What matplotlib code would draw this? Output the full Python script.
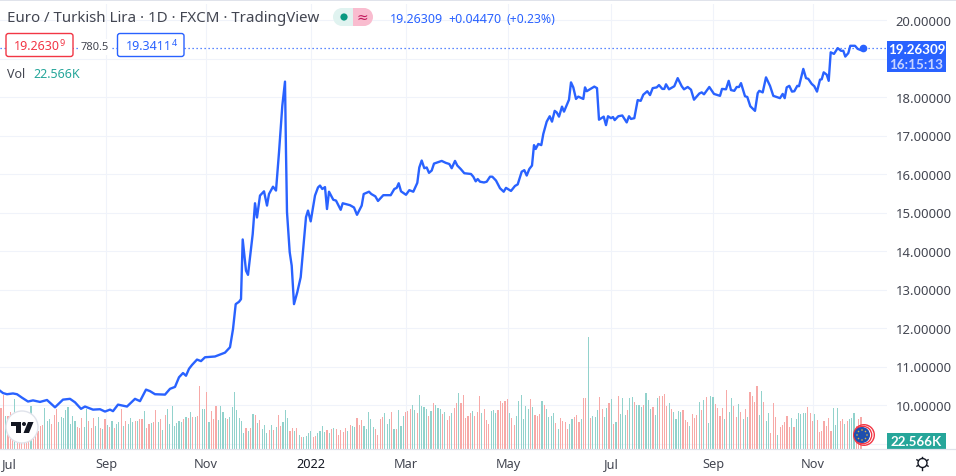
import matplotlib
matplotlib.use("Agg")
import matplotlib.pyplot as plt
from matplotlib.patches import Circle, FancyBboxPatch, Polygon, Rectangle

plt.rcParams["font.family"] = ["Noto Sans", "DejaVu Sans"]

# price line, time axis position and EUR/TRY close
line_t = [0, 3, 7, 13, 17, 22, 28, 33, 40, 47, 55, 63, 70, 75, 81, 85, 93, 100, 105, 110, 113, 118, 127, 135, 140, 146,
          150, 155, 165, 170, 175, 179, 183, 186, 189, 192, 197, 201, 205, 215, 225, 230, 233,
          235.7, 239, 241, 242.7, 246, 248, 252.7, 255, 257, 260, 264, 267, 269, 273, 276, 279, 282.3, 285, 286, 287,
          289.7, 291.7, 294, 297.3, 300.7, 306, 308, 310.7, 315, 318, 320, 322.3, 325, 327, 329, 333.3, 336, 340.7,
          342.7, 350, 354, 357, 361.7, 363.7, 369, 371.3, 375.3, 378, 383.3, 390.7, 394.3, 396.7, 398.7, 401,
          406, 409.3, 413.3, 417.3, 419.3, 421.7, 424.3, 426.7, 429, 431.7, 434, 441.7, 445.7, 449.3, 451.7, 455,
          457.3, 460.7, 464.3, 471, 473.3, 475.7, 477.7, 480, 484, 486.7, 490, 492.3, 496, 500, 503.7, 506, 511, 515,
          517.7, 521.7, 524.3, 526.7, 529.3, 532, 534, 535.7, 538.3, 541.3, 543.3, 546.7, 549.7, 552, 554.7, 556.7,
          559, 562, 564, 569, 571, 573.3, 576, 578.3, 583.3, 585, 586.7, 594.3, 597, 599, 603.7, 606, 608, 611, 613,
          614.7, 618.3, 622.3, 626.7, 629, 631, 634.3, 637.7, 640.7, 643.3, 647.3, 650, 652.7, 656.7, 659, 662.3,
          664.3, 666, 669, 674.3, 677.7, 681.7, 684, 687.7, 691, 694, 699.3, 701.7, 704, 709.3, 714, 720, 722, 726,
          728.7, 731, 734.3, 736.7, 739, 741, 745, 747.3, 750.3, 755, 757.7, 759.3, 762.7, 766, 770, 773.3, 780,
          782.7, 784.7, 786.7, 789.3, 792, 794.3, 797.3, 799, 803.3, 806, 808.3, 811.7, 814.3, 817, 820, 821.7, 823.7,
          826.7, 828.7, 830.7, 834, 837.7, 841, 843.3, 845.3, 848.3, 850.3, 855, 857.7, 860.7, 863]
price = [10.37, 10.31, 10.28, 10.30, 10.28, 10.19, 10.09, 10.12, 10.08, 10.13, 9.94, 10.14, 10.16, 10.07, 9.90, 9.96, 9.88, 9.89, 9.83, 9.88, 9.84, 10.01, 9.96, 10.16, 10.10, 10.40,
         10.36, 10.28, 10.27, 10.42, 10.47, 10.72, 10.83, 10.76, 10.94, 11.04, 11.18, 11.14, 11.24, 11.26, 11.36, 11.50, 11.97,
         12.62, 12.68, 12.75, 14.30, 13.49, 13.38, 14.44, 15.24, 14.87, 15.44, 15.55, 15.18, 15.48, 15.67, 15.57, 16.56, 17.77, 18.40, 16.57, 15.01,
         13.97, 13.62, 12.62, 12.93, 13.32, 14.88, 15.05, 14.77, 15.44, 15.65, 15.70, 15.61, 15.66, 15.09, 15.54, 15.33, 15.31, 15.07,
         15.24, 15.19, 15.13, 14.94, 15.18, 15.48, 15.54, 15.48, 15.42, 15.30, 15.45, 15.45, 15.61, 15.64, 15.76, 15.55,
         15.46, 15.58, 15.54, 15.77, 16.17, 16.35, 16.15, 16.17, 16.03, 16.09, 16.27, 16.34, 16.29, 16.26, 16.15, 16.34,
         16.22, 16.13, 16.02, 16.00, 15.93, 15.81, 15.87, 15.80, 15.78, 15.80, 15.93, 15.93, 15.83, 15.63, 15.54, 15.64, 15.56, 15.69,
         15.73, 16.06, 16.10, 15.96, 16.13, 16.22, 16.75, 16.65, 16.78, 16.75, 17.04, 17.36, 17.50, 17.36, 17.64, 17.60,
         17.49, 17.75, 17.62, 17.93, 18.38, 18.25, 17.95, 18.01, 17.95, 18.25, 18.15, 18.27, 18.23, 17.41, 17.49, 17.27, 17.50, 17.45, 17.48,
         17.40, 17.50, 17.52, 17.34, 17.50, 17.43, 17.45, 17.92, 17.90, 18.06, 18.15, 18.05, 18.23, 18.25, 18.31, 18.21,
         18.21, 18.33, 18.20, 18.28, 18.49, 18.28, 18.20, 18.26, 18.19, 17.93, 18.09, 18.12, 18.07, 18.26, 18.08, 18.03, 18.21, 18.20,
         18.42, 18.18, 18.16, 18.26, 18.26, 18.36, 18.02, 18.00, 17.76, 17.64, 18.10, 18.16, 18.12, 18.51, 18.29, 18.03, 17.97,
         18.08, 17.97, 18.25, 18.29, 18.14, 18.15, 18.29, 18.28, 18.73, 18.49, 18.47, 18.34, 18.28, 18.14, 18.45, 18.46, 18.64,
         18.58, 18.42, 19.16, 19.12, 19.27, 19.20, 19.20, 19.05, 19.14, 19.33, 19.33, 19.25, 19.22, 19.26]

# daily volume bars, relative height
vol = [123, 162, 100, 100, 110, 75, 150, 90, 75, 85,
       90, 90, 110, 130, 90, 55, 55, 70, 72, 122,
       85, 90, 75, 102, 120, 82, 96, 93, 118, 127,
       75, 100, 85, 65, 62, 93, 65, 120, 85, 62,
       93, 68, 96, 62, 60, 90, 72, 65, 85, 63,
       75, 82, 120, 70, 85, 75, 92, 82, 85, 85,
       90, 90, 114, 62, 75, 77, 80, 118, 80, 90,
       58, 103, 120, 75, 130, 68, 77, 85, 82, 90,
       95, 92, 112, 97, 95, 100, 190, 120, 120, 172,
       80, 113, 90, 130, 88, 128, 110, 92, 90, 97,
       125, 170, 117, 92, 85, 48, 62, 55, 62, 105,
       102, 78, 87, 60, 72, 48, 57, 72, 57, 65,
       102, 68, 80, 117, 92, 55, 62, 55, 62, 43,
       37, 37, 40, 48, 53, 35, 40, 48, 53, 68,
       50, 57, 48, 60, 63, 60, 42, 57, 50, 63,
       54, 72, 70, 66, 93, 72, 87, 70, 60, 112,
       90, 66, 60, 42, 90, 96, 108, 75, 90, 112,
       60, 60, 117, 69, 99, 112, 114, 120, 132, 117,
       108, 162, 130, 126, 120, 99, 114, 138, 132, 123,
       120, 105, 111, 87, 99, 108, 123, 138, 168, 138,
       162, 93, 99, 108, 114, 99, 111, 159, 108, 120,
       87, 75, 114, 117, 108, 117, 144, 138, 144, 150,
       108, 93, 72, 99, 144, 162, 90, 129, 120, 150,
       126, 102, 99, 105, 144, 132, 120, 96, 99, 108,
       78, 60, 93, 84, 81, 60, 75, 90, 96, 102,
       81, 90, 153, 153, 336, 93, 99, 96, 117, 156,
       120, 96, 123, 138, 150, 75, 81, 159, 105, 153,
       102, 117, 153, 156, 141, 132, 132, 126, 132, 168,
       147, 120, 126, 102, 153, 159, 159, 165, 129, 138,
       120, 111, 90, 114, 111, 117, 87, 81, 69, 105,
       93, 102, 141, 117, 147, 156, 78, 159, 156, 135,
       123, 99, 123, 90, 177, 111, 153, 129, 96, 135,
       111, 90, 120, 96, 171, 159, 141, 189, 102, 174,
       141, 84, 108, 48, 138, 96, 42, 66, 72, 81,
       99, 66, 93, 66, 90, 108, 105, 108, 108, 126,
       108, 84, 105, 87, 51, 54, 84, 69, 93, 54,
       123, 72, 123, 84, 90, 75, 84, 90, 93, 108,
       69, 90, 96]
# r = down day, g = up day, ten bars a row like vol
vol_side = ("rrgrrrgrrr" "rrrgrrrrrg" "ggrrrggggg" "gggrrrggrr" "rggrgrgrgr"
            "ggrgrgggrg" "rrgrrgrrgr" "grgggggggr" "grgrgrrggr" "grrrggggrg"
            "ggggggrgrg" "rgrgggrgrg" "rrgggrrgrg" "rggggrrggg" "grgrgrrrrr"
            "grggrrrggg" "ggrrrrgggr" "grgggrrrgg" "rggggrgrgg" "grgrrgrrgr"
            "rrrrgrrrgr" "rrgggrrrrr" "grrggggggr" "grrrgrgggg" "rgrrrrggrr"
            "rgrrgrgggr" "rggrgrgrgg" "grggrgggrg" "ggrggrrrrg" "rggggrrrgr"
            "rrgrgrgggr" "rrrgrggrrg" "rgrgrrrrgg" "rggrrrgrrr" "rrgrgggggr"
            "rrgrrrrrrr" "gggrrgrggg" "rrr")

# time axis and price axis labels
month_t = [9, 106, 206, 311, 406, 508, 611, 713, 813]
month_labels = ["Jul", "Sep", "Nov", "2022", "Mar", "May", "Jul", "Sep", "Nov"]
price_ticks = [9, 10, 11, 12, 13, 14, 15, 16, 17, 18, 19, 20]
price_labels = ["", "10.00000", "11.00000", "12.00000", "13.00000", "14.00000", "15.00000",
                "16.00000", "17.00000", "18.00000", "", "20.00000"]
last_close = 19.26309

BLUE = "#2962ff"
RED = "#f23645"
GRID = "#f0f3fa"
DARK = "#434651"
W, H = 956, 477
rect = [0, (H - 450) / H, 887 / W, 445 / H]
price_lim = (20 - 429 / 38.5, 20 + 16 / 38.5)

fig = plt.figure(figsize=(W / 100, H / 100), dpi=100, facecolor="white")

# three layers: grid, volume bars, price line
bg = fig.add_axes(rect, zorder=1)
bg.set_xlim(0, 887)
bg.set_ylim(price_lim)
bg.set_xticks(month_t[1:])
bg.set_yticks(price_ticks)
bg.grid(True, color=GRID, lw=0.75)
bg.tick_params(length=0, labelbottom=False, labelleft=False)
for s in bg.spines.values():
    s.set_visible(False)

ax_vol = fig.add_axes(rect, facecolor="none", zorder=2)
step = 860 / (len(vol) - 1)
colors = ["#f7a9a7" if s == "r" else "#92d2cc" for s in vol_side]
ax_vol.bar(range(len(vol)), vol, width=1.15 / step, color=colors, linewidth=0)
ax_vol.set_xlim(-1 / step, 886 / step)
ax_vol.set_ylim(0, 1335)
ax_vol.axis("off")

ax = fig.add_axes(rect, facecolor="none", zorder=3)
ax.plot(line_t, price, color=BLUE, lw=1.7, solid_joinstyle="round", zorder=4)
ax.plot(line_t[-1], price[-1], "o", color=BLUE, ms=4.5, zorder=5)
ax.axhline(last_close, color=BLUE, lw=0.9, ls=(0, (1, 2.2)), zorder=3)
ax.set_xlim(0, 887)
ax.set_ylim(price_lim)
ax.set_xticks(month_t)
ax.set_xticklabels(month_labels, fontsize=9.2, color=DARK)
ax.get_xticklabels()[3].set_color("#131722")
ax.set_yticks(price_ticks)
ax.set_yticklabels(price_labels, fontsize=9.4, color=DARK)
ax.yaxis.tick_right()
ax.tick_params(length=0)
ax.tick_params(axis="x", pad=5.5)
ax.tick_params(axis="y", pad=6.2)
for s in ax.spines.values():
    s.set_visible(False)

# overlay in screen pixels for the TradingView furniture
ov = fig.add_axes([0, 0, 1, 1], facecolor="none", zorder=6)
ov.set_xlim(0, W)
ov.set_ylim(H, 0)
ov.axis("off")

ov.add_patch(Rectangle((0, 0), W, 2, color="#e0e3eb", lw=0))
ov.plot([0, W], [450, 450], color="#e0e3eb", lw=0.9)

ov.text(7, 18.5, "Euro / Turkish Lira · 1D · FXCM · TradingView", fontsize=10.85, color=DARK, va="center")
ov.add_patch(Circle((342, 18), 9, fc="#e0f3f0", lw=0))
ov.add_patch(Rectangle((342, 9), 11, 18, fc="#e0f3f0", lw=0))
ov.add_patch(Rectangle((353, 9), 11, 18, fc="#f9bccf", lw=0))
ov.add_patch(Circle((364, 18), 9, fc="#f9bccf", lw=0))
ov.add_patch(Circle((344, 18), 3.6, fc="#089981", lw=0))
ov.text(362, 18, "≈", fontsize=10, color="#c2185b", ha="center", va="center", family="DejaVu Sans")
ov.text(390, 19.5, "19.26309", fontsize=9, color=BLUE, va="center")
ov.text(448, 19.5, "+0.04470", fontsize=9, color=BLUE, va="center")
ov.text(507, 19.5, "(+0.23%)", fontsize=8.8, color=BLUE, va="center")

for x0, x1, col, txt, sup in [(6, 73, RED, "19.2630", "9"), (117.5, 184, BLUE, "19.3411", "4")]:
    ov.add_patch(FancyBboxPatch((x0, 34.5), x1 - x0, 23, boxstyle="round,pad=0,rounding_size=2.5",
                                fc="white", ec=col, lw=1))
    ov.text(x0 + 8, 47, txt, fontsize=9, color=col, va="center")
    ov.text(x0 + 54, 44, sup, fontsize=6.5, color=col, va="center")
ov.add_patch(Rectangle((79, 40), 31, 16, fc="white", lw=0))
ov.text(81, 47, "780.5", fontsize=8, color=DARK, va="center")
ov.text(7, 75, "Vol", fontsize=9, color=DARK, va="center")
ov.text(33, 75, "22.566K", fontsize=9, color="#26a69a", va="center")

# last price and volume tags on the axis
ov.add_patch(Rectangle((887, 42), 59, 31, fc=BLUE, lw=0))
ov.text(916.5, 50.5, "19.26309", fontsize=9.6, color="white", weight="bold", family="Lato", ha="center", va="center")
ov.text(916.5, 65, "16:15:13", fontsize=9.6, color="#c8d4ff", weight="bold", family="Lato", ha="center", va="center")
ov.add_patch(Rectangle((887, 434), 59, 16, fc="#26a69a", lw=0))
ov.text(916.5, 442, "22.566K", fontsize=9.6, color="white", weight="bold", family="Lato", ha="center", va="center")

# TradingView logo badge
ov.add_patch(Circle((22, 428), 16, fc="white", ec="#e0e3eb", lw=1))
ov.add_patch(Polygon([(11, 423), (21, 423), (21, 434), (16, 434), (16, 427), (11, 427)], fc="#131722", lw=0))
ov.add_patch(Circle((24, 425), 2, fc="#131722", lw=0))
ov.add_patch(Polygon([(28, 423), (33.5, 423), (29, 434), (23.5, 434)], fc="#131722", lw=0))

# EU flag badge
for cx, r, col in [(864, 11, RED), (864, 9.6, "white"), (863, 9.4, RED), (863, 8, "white"), (862, 8, "#1e4fae")]:
    ov.add_patch(Circle((cx, 436), r, fc=col, lw=0))
for dx, dy in [(0, -5), (3.5, -3.5), (5, 0), (3.5, 3.5), (0, 5), (-3.5, 3.5), (-5, 0), (-3.5, -3.5)]:
    ov.add_patch(Circle((862 + dx, 436 + dy), 0.8, fc="#d9b441", lw=0))

# settings gear
ov.add_patch(Circle((922.5, 464), 4.5, fc="white", ec="#131722", lw=1))
for dx, dy in [(0, -6.5), (5.6, -3.2), (5.6, 3.2), (0, 6.5), (-5.6, 3.2), (-5.6, -3.2)]:
    ov.plot([922.5 + dx * 0.75, 922.5 + dx], [464 + dy * 0.75, 464 + dy], color="#131722", lw=1)

fig.savefig("out.png", dpi=100)
